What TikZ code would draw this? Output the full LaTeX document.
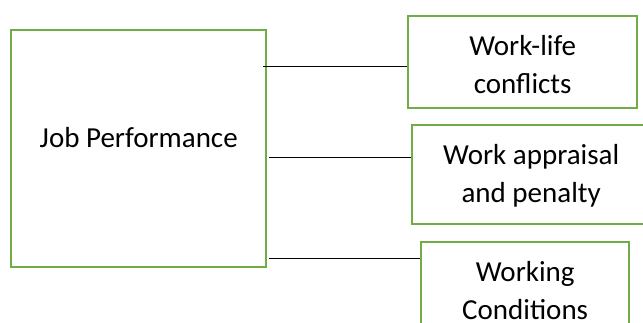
\documentclass[tikz,border=0pt]{standalone}
\usepackage{fontspec}
\setmainfont{Carlito}
\usepackage{xcolor}
\definecolor{boxgreen}{HTML}{70AD47}
\tikzset{
	factor/.style = {draw = boxgreen, line width = 2.4pt, anchor = north west, inner sep = 0pt,
		align = center, text height = 77pt, font = \fontsize{29}{38}\selectfont},
	link/.style = {black, line width = 1pt}
}

\begin{document}
\begin{tikzpicture}[x = 1pt, y = -1pt]
	\useasboundingbox (0,0) rectangle (643,323);
	
	% boxes
	\node[factor, minimum width = 255pt, text height = 117pt, text depth = 120pt] (jp) at (10,29) {Job Performance};
	\node[factor, minimum width = 229pt, text depth = 15pt] (wlc) at (407,15) {Work-life\\conflicts};
	\node[factor, minimum width = 238pt, text depth = 22pt] (wap) at (411,124) {Work appraisal\\and penalty};
	\node[factor, minimum width = 208pt, text depth = 17pt] (wcd) at (420,241) {Working\\Conditions};
	
	% links
	\coordinate (wlc-in) at ([yshift = -4pt]wlc.west);
	\coordinate (wap-in) at ([yshift = 17.5pt]wap.west);
	\coordinate (wcd-in) at ([yshift = -18pt]wcd.north west);
	\coordinate (jp-r) at ([xshift = -4pt]jp.east);
	
	\draw[link] (jp-r |- wlc-in) -- (wlc-in);
	\draw[link] ([xshift = 2pt]jp.east |- wap-in) -- (wap-in);
	\draw[link] ([xshift = 2pt]jp.east |- wcd-in) -- (wcd-in);
	
\end{tikzpicture}
\end{document}
